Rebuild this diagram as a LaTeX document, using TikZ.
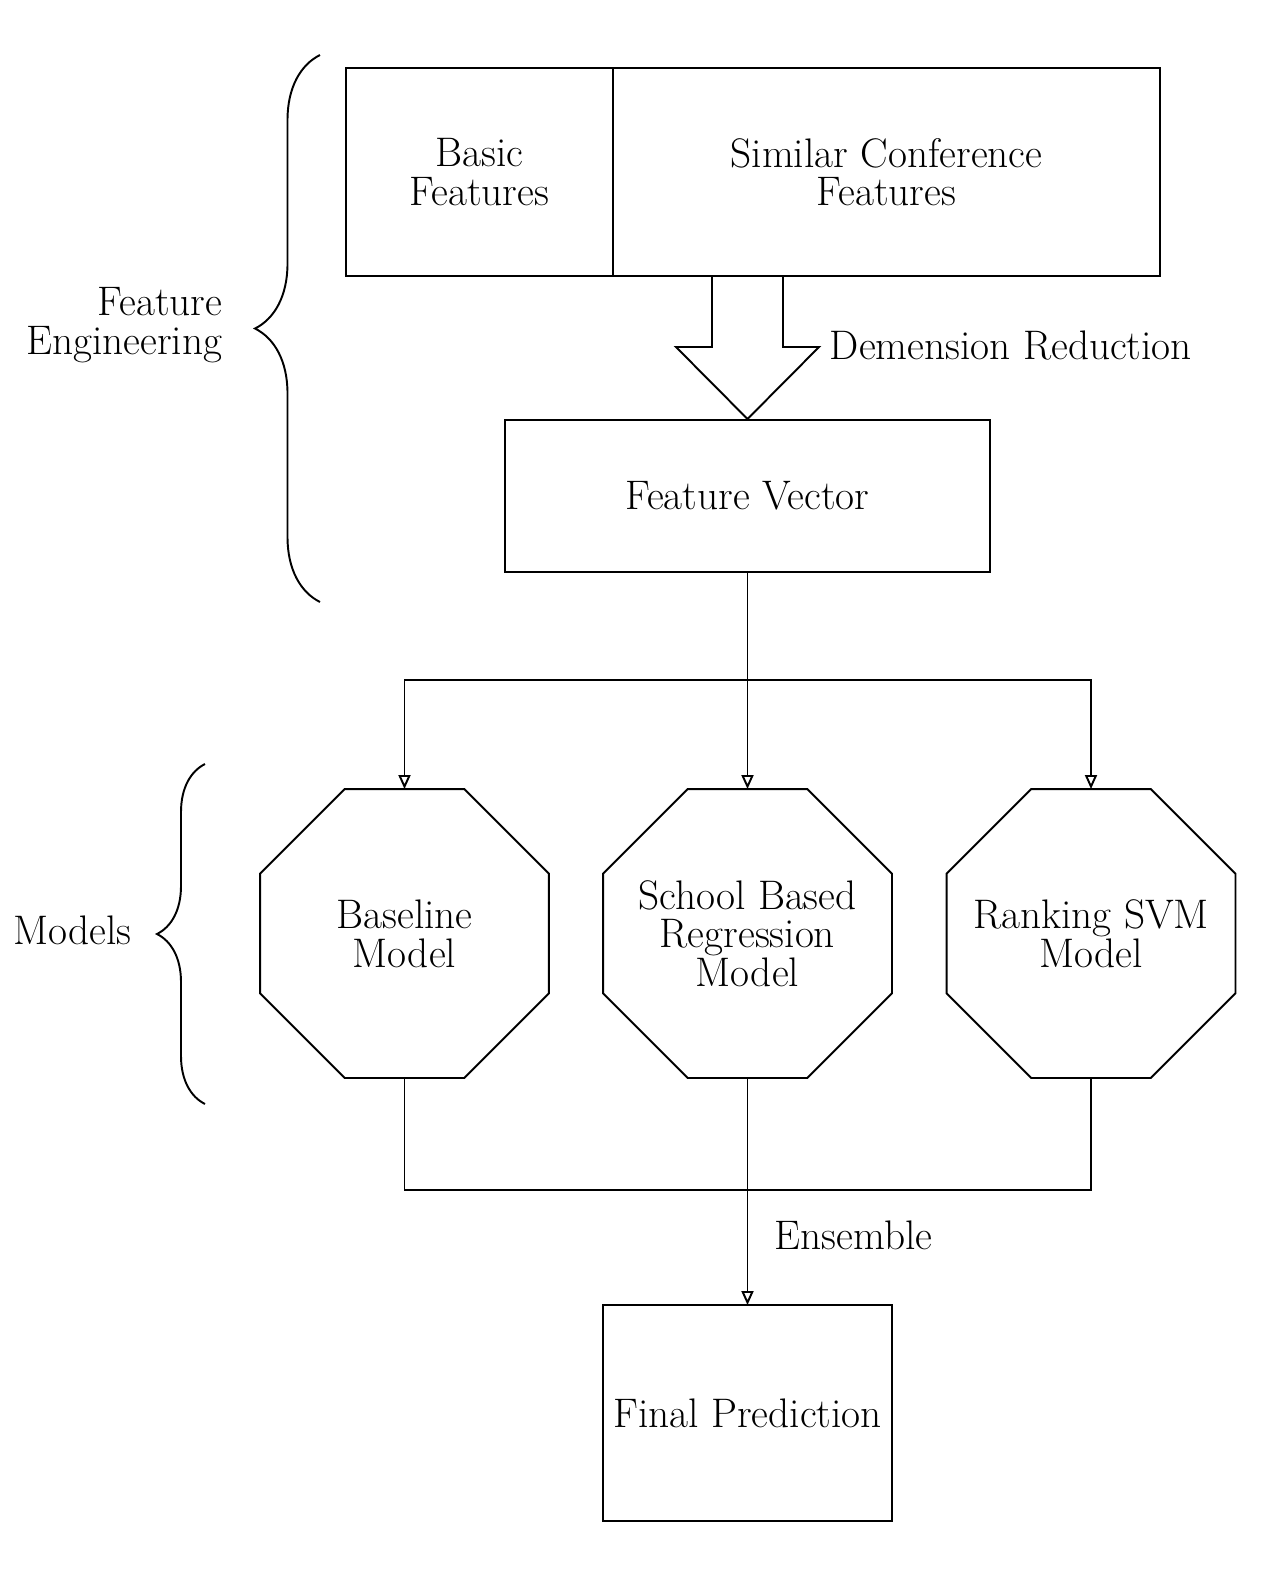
\documentclass[tikz,border=0pt]{standalone}
\usetikzlibrary{shapes.geometric,arrows.meta,decorations.pathreplacing}
\begin{document}
\begin{tikzpicture}[x=0.02cm,y=-0.02cm,line width=1.1pt,
  txt/.style={font=\fontsize{23.5}{22}\selectfont,align=center},
  boxn/.style={draw,txt,inner sep=0pt,outer sep=0pt},
  octn/.style={draw,regular polygon,regular polygon sides=8,minimum size=6.256cm,inner sep=0pt,outer sep=0pt},
  arr/.style={-{Triangle[open,length=0.28cm,width=0.24cm]}},
  bracen/.style={decorate,decoration={brace,amplitude=#1}}]
\useasboundingbox (0,0) rectangle (1272,1590);
% top boxes
\node[boxn,minimum width=5.34cm,minimum height=4.16cm] (basic) at (479.5,172) {Basic\\Features};
\node[boxn,minimum width=10.94cm,minimum height=4.16cm] (similar) at (886.5,172) {Similar Conference\\Features};
% big arrow
\draw[line join=miter] (712,276) -- (712,347) -- (676,347) -- (747.5,419) -- (819,347) -- (783,347) -- (783,276);
\node[txt,anchor=west] (dr) at (823,345) {Demension Reduction};
% feature vector
\node[boxn,minimum width=9.7cm,minimum height=3.04cm] (fv) at (747.5,496) {Feature Vector};
% octagons
\node[octn] (base) at (404.5,933.5) {};
\node[txt] (baset) at (base.center) {Baseline\\Model};
\node[octn] (school) at (747.5,933.5) {};
\node[txt] (schoolt) at (school.center) {School Based\\Regression\\Model};
\node[octn] (rank) at (1091,933.5) {};
\node[txt] (rankt) at (rank.center) {Ranking SVM\\Model};
% split
\coordinate (split) at (747.5,680);
\draw[arr] (fv.south) -- (school.north);
\draw[arr] (split) -| (base.north);
\draw[arr] (split) -| (rank.north);
% final
\node[boxn,minimum width=5.78cm,minimum height=4.32cm] (final) at (747.5,1413) {Final Prediction};
\coordinate (join) at (747.5,1190);
\draw (base.south) |- (join) -| (rank.south);
\draw[arr] (school.south) -- (final.north);
\node[txt,anchor=west] (ens) at (768,1235) {Ensemble};
% braces
\draw[bracen=1.3cm] (320,602) -- (320,55);
\node[txt,align=right,anchor=east] (fe) at (229,325) {Feature\\Engineering};
\draw[bracen=0.96cm] (205,1104) -- (205,764);
\node[txt,anchor=east] (mod) at (138,930) {Models};
\end{tikzpicture}
\end{document}
